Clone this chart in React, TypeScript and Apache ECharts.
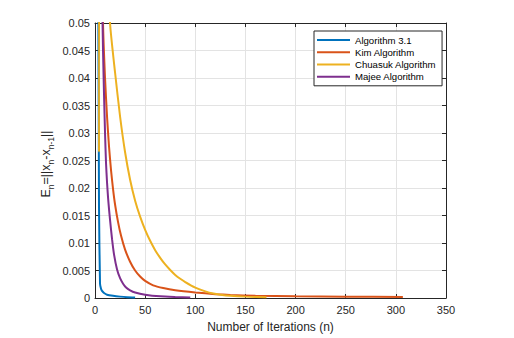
import React, { useEffect, useRef } from "react";
import * as echarts from "echarts";

const seriesNames = ["Algorithm 3.1", "Kim Algorithm", "Chuasuk Algorithm", "Majee Algorithm"];
const seriesColors = ["#0072BD", "#D95319", "#EDB120", "#7E2F8E"];

// Algorithm 3.1 (blue)
const alg31N = [1, 2, 3, 4, 5, 6, 7, 9, 12, 18, 25, 32, 40];
const alg31E = [0.6, 0.3, 0.08, 0.0165, 0.0026, 0.0017, 0.0013, 0.0009, 0.0006, 0.0004, 0.00025, 0.00015, 0.0001];

// Kim Algorithm (orange)
const kimN = [1, 2, 3, 4, 5, 6, 7, 8, 10, 12, 14, 16, 18, 20, 23, 26, 30, 35, 40, 45, 50, 58, 68, 80, 100, 120, 135, 160, 200, 250, 307];
const kimE = [1.0, 0.6, 0.35, 0.22, 0.15, 0.1, 0.07, 0.05, 0.04, 0.033, 0.0275, 0.0232, 0.0198, 0.017, 0.0138, 0.0113, 0.0088, 0.0066, 0.005, 0.0039, 0.0031, 0.0023, 0.0018, 0.0014, 0.001, 0.0007, 0.00055, 0.0004, 0.0003, 0.00025, 0.0002];

// Chuasuk Algorithm (yellow)
const chuasukN = [1, 2, 3, 4, 5, 6, 8, 10, 12, 15, 20, 25, 30, 35, 40, 45, 50, 55, 60, 65, 70, 75, 80, 85, 90, 100, 110, 118, 125, 135, 150, 171];
const chuasukE = [0.5, 0.35, 0.2, 0.0265, 0.2, 0.15, 0.11, 0.085, 0.068, 0.05, 0.041, 0.033, 0.0265, 0.0215, 0.0177, 0.0148, 0.0124, 0.0104, 0.0087, 0.0073, 0.0061, 0.0051, 0.0042, 0.0035, 0.0029, 0.0019, 0.0012, 0.0008, 0.0006, 0.0004, 0.00025, 0.00015];

// Majee Algorithm (purple)
const majeeN = [1, 2, 3, 4, 5, 6, 7, 8, 9, 10, 11, 12, 13, 14, 15, 17, 19, 22, 25, 28, 31, 35, 40, 50, 65, 80, 95];
const majeeE = [0.9, 0.5, 0.3, 0.18, 0.11, 0.075, 0.056, 0.045, 0.037, 0.03, 0.0245, 0.021, 0.0183, 0.0161, 0.0142, 0.0107, 0.0079, 0.0052, 0.0036, 0.0026, 0.0019, 0.0014, 0.001, 0.0006, 0.0003, 0.00018, 0.0001];

const seriesN = [alg31N, kimN, chuasukN, majeeN];
const seriesE = [alg31E, kimE, chuasukE, majeeE];

const xMin = 0;
const xMax = 350;
const xStep = 50;
const yMin = 0;
const yMax = 0.05;
const yStep = 0.005;

const xTitle = "Number of Iterations (n)";

const FONT = "'Liberation Sans', Arial, Helvetica, sans-serif";
const AXIS_COLOR = "#262626";
const GRID_COLOR = "#e3e3e3";

export default function App() {
  const ref = useRef<HTMLDivElement>(null);

  useEffect(() => {
    if (!ref.current) return;
    const chart = echarts.init(ref.current, undefined, { renderer: "svg" });

    const axisCommon = {
      type: "value" as const,
      axisLine: { show: true, onZero: false, lineStyle: { color: AXIS_COLOR, width: 1 } },
      axisTick: { show: true, inside: true, length: 4, lineStyle: { color: AXIS_COLOR, width: 1 } },
    };

    const option: any = {
      animation: false,
      backgroundColor: "#ffffff",
      grid: { left: 95, top: 23, width: 351, height: 277, containLabel: false },
      xAxis: [
        {
          ...axisCommon,
          position: "bottom",
          min: xMin,
          max: xMax,
          interval: xStep,
          axisLabel: { color: AXIS_COLOR, fontSize: 11, fontFamily: FONT, margin: 6 },
          splitLine: { show: true, lineStyle: { color: GRID_COLOR, width: 1 } },
          name: xTitle,
          nameLocation: "middle",
          nameGap: 23,
          nameTextStyle: { color: AXIS_COLOR, fontSize: 12, fontFamily: FONT },
        },
        {
          ...axisCommon,
          position: "top",
          min: xMin,
          max: xMax,
          interval: xStep,
          axisLabel: { show: false },
          splitLine: { show: false },
        },
      ],
      yAxis: [
        {
          ...axisCommon,
          position: "left",
          min: yMin,
          max: yMax,
          interval: yStep,
          axisLabel: { color: AXIS_COLOR, fontSize: 11, fontFamily: FONT, margin: 5 },
          splitLine: { show: true, lineStyle: { color: GRID_COLOR, width: 1 } },
        },
        {
          ...axisCommon,
          position: "right",
          min: yMin,
          max: yMax,
          interval: yStep,
          axisLabel: { show: false },
          splitLine: { show: false },
        },
      ],
      legend: {
        show: true,
        orient: "vertical",
        left: 314,
        top: 31,
        data: seriesNames,
        icon: "rect",
        itemWidth: 33,
        itemHeight: 2,
        itemGap: 0,
        padding: [3, 6, 3, 3],
        backgroundColor: "#ffffff",
        borderColor: AXIS_COLOR,
        borderWidth: 1,
        textStyle: { color: "#000000", fontSize: 9.6, fontFamily: FONT, lineHeight: 12.2 },
        selectedMode: false,
      },
      graphic: [
        {
          type: "text",
          x: 46,
          y: 164,
          rotation: Math.PI / 2,
          style: {
            text: "{m|E}{s|n}{m|=||x}{s|n}{m|-x}{s|n-1}{m|||}",
            align: "center",
            verticalAlign: "middle",
            fill: AXIS_COLOR,
            rich: {
              m: { fontSize: 12.5, fontFamily: FONT, fill: AXIS_COLOR, lineHeight: 18, verticalAlign: "middle" },
              s: { fontSize: 8.5, fontFamily: FONT, fill: AXIS_COLOR, lineHeight: 8, verticalAlign: "bottom" },
            },
          },
        },
      ],
      series: seriesNames.map((name, i) => ({
        name,
        type: "line",
        xAxisIndex: 0,
        yAxisIndex: 0,
        data: seriesN[i].map((n, j) => [n, seriesE[i][j]]),
        showSymbol: false,
        symbol: "none",
        clip: true,
        smooth: 0.2,
        lineStyle: { color: seriesColors[i], width: 2 },
        itemStyle: { color: seriesColors[i] },
      })),
    };

    chart.setOption(option);
    return () => chart.dispose();
  }, []);

  return (
    <div
      ref={ref}
      style={{ position: "absolute", left: 0, top: 0, width: 514, height: 338 }}
    />
  );
}
